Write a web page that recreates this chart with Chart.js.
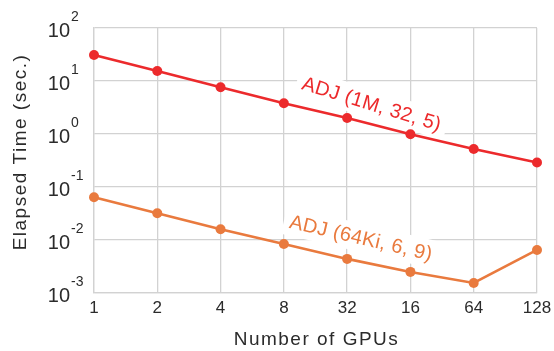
<!DOCTYPE html>
<html>
<head>
<meta charset="utf-8">
<script src="https://cdn.jsdelivr.net/npm/chart.js@4/dist/chart.umd.min.js"></script>
<style>
  html, body { margin: 0; padding: 0; background: #fff; }
  #chart { display: block; }
</style>
</head>
<body>
<canvas id="chart" width="554" height="351"></canvas>
<script>
// GPU counts as printed on the x axis (order kept as in the run log)
const gpuLabels = ['1', '2', '4', '8', '32', '16', '64', '128'];

// elapsed time in seconds
const adj1M   = [31, 15.5, 7.6, 3.8, 2.0, 0.99, 0.52, 0.29];
const adj64Ki = [0.064, 0.032, 0.016, 0.0084, 0.0044, 0.0025, 0.00155, 0.0065];

// decade ticks and their exponents
const yTickValues = [1e-3, 1e-2, 1e-1, 1e0, 1e1, 1e2];
const yTickExps   = ['-3', '-2', '-1', '0', '1', '2'];

// inline series names: text, anchor (category index, value), tilt in degrees
const seriesNames  = ['ADJ (1M, 32, 5)', 'ADJ (64Ki, 6, 9)'];
const nameAnchorX  = [4.39, 4.22];
const nameAnchorY  = [3.7, 0.011];
const nameAngles   = [17, 13];

const RED    = '#ec2a2c';
const ORANGE = '#e97a3e';
const GRID   = '#d2d2d2';
const TEXT   = '#2b2b2b';
const FONT   = '"Liberation Sans", Arial, Helvetica, sans-serif';

// tick labels, axis titles and series names are drawn by hand
const decorations = {
  id: 'decorations',
  beforeDatasetsDraw(chart) {
    const { ctx, scales: { x, y } } = chart;
    const colors = [RED, ORANGE];
    ctx.save();
    ctx.font = '20px ' + FONT;
    ctx.letterSpacing = '0.3px';
    ctx.textAlign = 'center';
    ctx.textBaseline = 'middle';
    seriesNames.forEach((name, i) => {
      const px = x.getPixelForValue(nameAnchorX[i]);
      const py = y.getPixelForValue(nameAnchorY[i]);
      const w = ctx.measureText(name).width;
      ctx.save();
      ctx.translate(px, py);
      ctx.rotate(nameAngles[i] * Math.PI / 180);
      ctx.fillStyle = '#fff';
      ctx.fillRect(-w / 2 - 6, -14, w + 12, 28);
      ctx.fillStyle = colors[i];
      ctx.fillText(name, 0, 1);
      ctx.restore();
    });
    ctx.restore();
  },
  afterDraw(chart) {
    const { ctx, chartArea, scales: { x, y } } = chart;
    ctx.save();
    ctx.fillStyle = TEXT;

    // x tick labels
    ctx.font = '17px ' + FONT;
    ctx.textAlign = 'center';
    ctx.textBaseline = 'middle';
    gpuLabels.forEach((lab, i) => {
      ctx.fillText(lab, x.getPixelForValue(i), chartArea.bottom + 15);
    });

    // y tick labels as 10^n
    yTickValues.forEach((v, i) => {
      const py = y.getPixelForValue(v);
      const expX = 71;
      ctx.font = '14px ' + FONT;
      ctx.textAlign = 'left';
      ctx.textBaseline = 'middle';
      ctx.fillText(yTickExps[i], expX, py - 11);
      ctx.font = '20px ' + FONT;
      ctx.textAlign = 'right';
      ctx.fillText('10', expX - 1, py + 3);
    });

    // axis titles
    ctx.font = '19px ' + FONT;
    ctx.letterSpacing = '1.5px';
    ctx.textAlign = 'center';
    ctx.textBaseline = 'middle';
    ctx.fillText('Number of GPUs', (chartArea.left + chartArea.right) / 2 + 1, 340);
    ctx.translate(21, 152);
    ctx.rotate(-Math.PI / 2);
    ctx.fillText('Elapsed Time (sec.)', 0, 0);
    ctx.restore();
  }
};

new Chart(document.getElementById('chart'), {
  type: 'line',
  data: {
    labels: gpuLabels,
    datasets: [
      {
        data: adj1M,
        borderColor: RED,
        backgroundColor: RED,
        borderWidth: 2.6,
        pointRadius: 5,
        pointBorderWidth: 0
      },
      {
        data: adj64Ki,
        borderColor: ORANGE,
        backgroundColor: ORANGE,
        borderWidth: 2.6,
        pointRadius: 5,
        pointBorderWidth: 0
      }
    ]
  },
  options: {
    responsive: false,
    animation: false,
    layout: { padding: { left: 94, right: 17, top: 28, bottom: 58 } },
    plugins: {
      legend: { display: false },
      tooltip: { enabled: false }
    },
    scales: {
      x: {
        type: 'category',
        offset: false,
        grid: { color: GRID, lineWidth: 1.3, drawTicks: false },
        border: { color: GRID, width: 1.3 },
        ticks: { display: false }
      },
      y: {
        type: 'logarithmic',
        min: 1e-3,
        max: 1e2,
        afterBuildTicks: axis => {
          axis.ticks = yTickValues.map(v => ({ value: v }));
        },
        grid: { color: GRID, lineWidth: 1.3, drawTicks: false },
        border: { color: GRID, width: 1.3 },
        ticks: { display: false }
      }
    }
  },
  plugins: [decorations]
});
</script>
</body>
</html>
